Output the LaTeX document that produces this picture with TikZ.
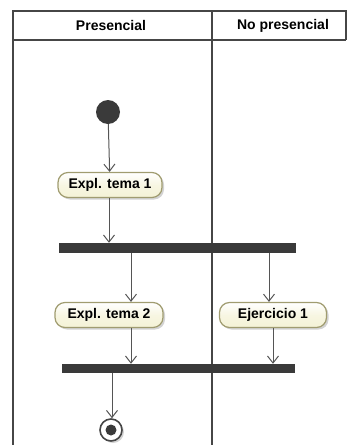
\documentclass[tikz,border=0pt]{standalone}
\usepackage{fontspec}
\setmainfont{Liberation Sans}
\usetikzlibrary{arrows.meta,shadows}
\definecolor{lanegray}{RGB}{70,70,70}
\definecolor{bargray}{RGB}{58,58,58}
\definecolor{actfill}{RGB}{244,242,214}
\definecolor{actborder}{RGB}{160,156,112}
\definecolor{flowgray}{RGB}{85,85,85}

\tikzset{
    action/.style={draw=actborder, line width=1.2pt, top color=white, bottom color=actfill, middle color=actfill!70,
        rounded corners=10pt, minimum height=25pt, inner sep=0pt,
        font=\fontsize{14}{16}\selectfont\bfseries,
        drop shadow={shadow xshift=2pt, shadow yshift=-2pt, opacity=0.35}},
    syncbar/.style={fill=bargray, draw=none, inner sep=0pt},
    flow/.style={draw=flowgray, line width=1pt, -{Straight Barb[length=7pt,width=11pt]}},
    lane/.style={draw=lanegray, line width=1.6pt}
}

\begin{document}
\begin{tikzpicture}[x=1pt, y=-1pt]
    \useasboundingbox (0,0) rectangle (348,445);

    % Swimlanes
    \draw[lane] (13,445) -- (13,11) -- (346,11) -- (346,40);
    \draw[lane] (13,40) -- (346,40);
    \draw[lane] (212,11) -- (212,445);
    \node[font=\fontsize{14}{16}\selectfont\bfseries] (lane1) at (111,25.5) {Presencial};
    \node[font=\fontsize{14}{16}\selectfont\bfseries] (lane2) at (283,25.5) {No presencial};

    % Start
    \node[circle, fill=bargray, minimum size=24pt, inner sep=0pt] (start) at (108,112) {};

    % Expl. tema 1
    \node[action, minimum width=104pt] (t1) at (110,185) {Expl. tema 1};

    % Fork
    \node[syncbar, minimum width=237pt, minimum height=10pt] (fork) at (177.5,248) {};

    % Expl. tema 2
    \node[action, minimum width=108pt] (t2) at (109,315) {Expl. tema 2};

    % Ejercicio 1
    \node[action, minimum width=107pt] (ej1) at (273,315) {Ejercicio 1};

    % Join
    \node[syncbar, minimum width=233pt, minimum height=9pt] (join) at (178.5,368.5) {};

    % End
    \node[circle, draw=lanegray, line width=1.6pt, fill=white, minimum size=22pt, inner sep=0pt,
        drop shadow={shadow xshift=2pt, shadow yshift=-2pt, opacity=0.35}] (end) at (111,430) {};
    \node[circle, fill=bargray, minimum size=11pt, inner sep=0pt] (endin) at (end) {};

    % Flows
    \draw[flow] (start) -- (t1);
    \draw[flow] ([xshift=-1pt]t1.south) -- ([xshift=-1pt]t1.south |- fork.north);
    \draw[flow] ([xshift=22pt]t2.north |- fork.south) -- ([xshift=22pt]t2.north);
    \draw[flow] ([xshift=-4pt]ej1.north |- fork.south) -- ([xshift=-4pt]ej1.north);
    \draw[flow] ([xshift=22pt]t2.south) -- ([xshift=22pt]t2.south |- join.north);
    \draw[flow] (ej1.south) -- (ej1.south |- join.north);
    \draw[flow] ([xshift=1pt]end.north |- join.south) -- ([xshift=1pt]end.north);
\end{tikzpicture}
\end{document}
